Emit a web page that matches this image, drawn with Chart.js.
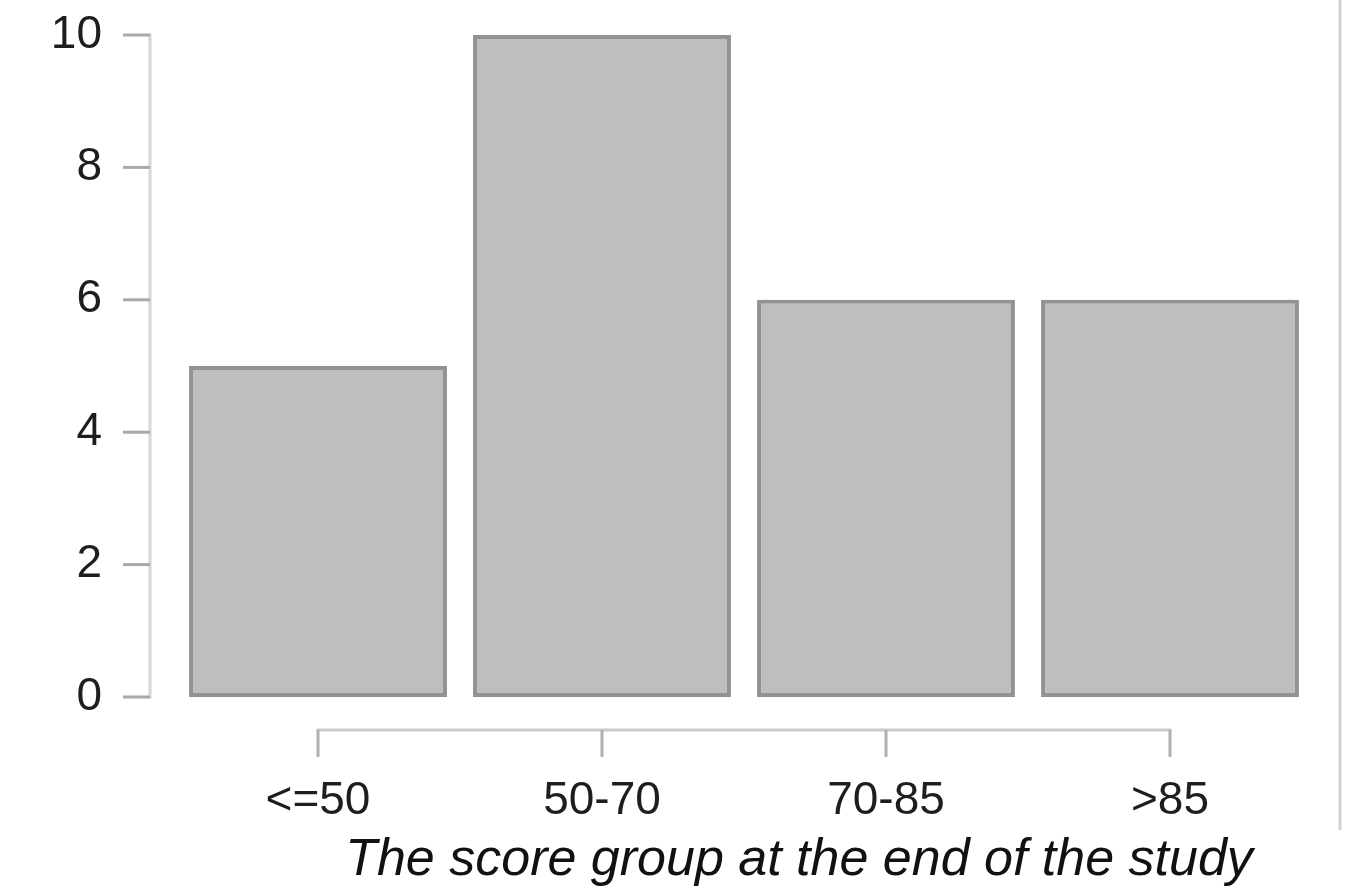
<!DOCTYPE html>
<html>
<head>
<meta charset="utf-8">
<script src="https://cdn.jsdelivr.net/npm/chart.js@4/dist/chart.umd.min.js"></script>
<style>
  html, body { margin: 0; padding: 0; background: #fff; }
  #wrap { width: 1349px; height: 894px; position: relative; }
</style>
</head>
<body>
<div id="wrap"><canvas id="scoreChart"></canvas></div>
<script>
// datos del grafico
const categorias = ['<=50', '50-70', '70-85', '>85'];
const frecuencias = [5, 10, 6, 6];
const ticksY = [0, 2, 4, 6, 8, 10];
const tituloX = 'The score group at the end of the study';

const FUENTE = '"Liberation Sans", Arial, sans-serif';

// ejes dibujados a mano, desplazados del area de barras
const ejesPlugin = {
    id: 'ejes',
    afterDraw(chart) {
        const ctx = chart.ctx;
        const area = chart.chartArea;
        const y = chart.scales.y;
        const x = chart.scales.x;
        ctx.save();
        ctx.lineCap = 'butt';

        // eje y
        const ejeX = area.left - 26;
        ctx.strokeStyle = '#d6d6d6';
        ctx.lineWidth = 3;
        ctx.beginPath();
        ctx.moveTo(ejeX, y.getPixelForValue(10) - 1.5);
        ctx.lineTo(ejeX, y.getPixelForValue(0) + 1.5);
        ctx.stroke();
        ctx.strokeStyle = '#a9a9a9';
        for (const v of ticksY) {
            const py = y.getPixelForValue(v);
            ctx.beginPath();
            ctx.moveTo(ejeX - 27, py);
            ctx.lineTo(ejeX, py);
            ctx.stroke();
        }

        // eje x
        const ejeY = area.bottom + 33;
        const x0 = x.getPixelForValue(0);
        const x3 = x.getPixelForValue(categorias.length - 1);
        ctx.strokeStyle = '#cacaca';
        ctx.beginPath();
        ctx.moveTo(x0 - 1.5, ejeY);
        ctx.lineTo(x3 + 1.5, ejeY);
        ctx.stroke();
        ctx.strokeStyle = '#b0b0b0';
        categorias.forEach((c, i) => {
            const px = x.getPixelForValue(i);
            ctx.beginPath();
            ctx.moveTo(px, ejeY);
            ctx.lineTo(px, ejeY + 27);
            ctx.stroke();
        });

        // linea vertical derecha
        ctx.strokeStyle = '#d2d2d2';
        ctx.beginPath();
        ctx.moveTo(1340, 0);
        ctx.lineTo(1340, 830);
        ctx.stroke();

        // titulo del eje x
        ctx.fillStyle = '#111';
        ctx.font = 'italic 52px ' + FUENTE;
        ctx.textAlign = 'center';
        ctx.textBaseline = 'middle';
        ctx.fillText(tituloX, 799, 861);
        ctx.restore();
    }
};

const ctx = document.getElementById('scoreChart').getContext('2d');
new Chart(ctx, {
    type: 'bar',
    data: {
        labels: categorias,
        datasets: [{
            data: frecuencias,
            backgroundColor: '#bebebe',
            borderColor: '#929292',
            borderWidth: 4,
            borderSkipped: false,
            categoryPercentage: 1,
            barPercentage: 0.908
        }]
    },
    options: {
        responsive: true,
        maintainAspectRatio: false,
        animation: false,
        layout: { padding: { top: 35, right: 37, bottom: 0, left: 0 } },
        plugins: {
            legend: { display: false },
            tooltip: { enabled: false }
        },
        scales: {
            x: {
                grid: { display: false },
                border: { display: false },
                ticks: {
                    color: '#1e1e1e',
                    font: { family: FUENTE, size: 46 },
                    padding: 69,
                    maxRotation: 0
                },
                afterFit(s) {
                    s.height = 894 - 697;
                    s.paddingLeft = 0;
                    s.paddingRight = 0;
                }
            },
            y: {
                min: 0,
                max: 10,
                afterBuildTicks(s) { s.ticks = ticksY.map(v => ({ value: v })); },
                grid: { display: false },
                border: { display: false },
                ticks: {
                    color: '#1e1e1e',
                    font: { family: FUENTE, size: 46 },
                    padding: 66
                },
                afterFit(s) {
                    s.width = 176;
                    s.paddingTop = 0;
                    s.paddingBottom = 0;
                }
            }
        }
    },
    plugins: [ejesPlugin]
});
</script>
</body>
</html>
